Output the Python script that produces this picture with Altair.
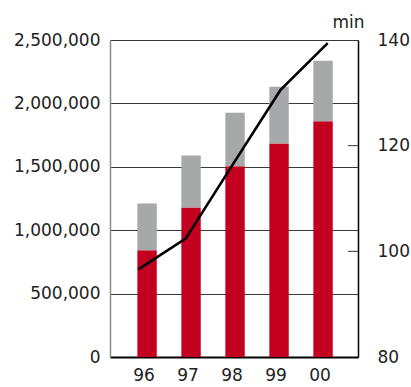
import altair as alt
import pandas as pd

# Yearly totals split into two stacked parts, plus average minutes on a second axis
years = ["96", "97", "98", "99", "00"]
lower = [842000, 1180000, 1505000, 1683000, 1860000]
upper = [369000, 409000, 422000, 449000, 477000]
minutes = [96.6, 102.4, 116.5, 130.5, 139.4]
left_ticks = [0, 500000, 1000000, 1500000, 2000000, 2500000]
right_labels = [80, 100, 120, 140]
right_ticks = [100, 120]

FONT = "DejaVu Sans"
FS = 17
RED = "#c40020"
GRAY = "#a6a8aa"
TEXT = "#222222"

bars_df = pd.DataFrame({
    "year": years * 2,
    "value": lower + upper,
    "part": ["lower"] * len(years) + ["upper"] * len(years),
    "rank": [0] * len(years) + [1] * len(years),
})
line_df = pd.DataFrame({"year": years, "minutes": minutes})
tick_df = pd.DataFrame({"minutes": right_ticks})

bars = alt.Chart(bars_df).mark_bar().encode(
    x=alt.X(
        "year:N", sort=years,
        scale=alt.Scale(paddingInner=0.559, paddingOuter=0.598, align=0.52),
        axis=alt.Axis(title=None, labelAngle=0, ticks=False, domainColor="black",
                      domainWidth=2, labelPadding=10, labelOffset=-3,
                      labelFontSize=FS, labelFont=FONT, labelColor=TEXT),
    ),
    y=alt.Y(
        "value:Q", stack="zero",
        scale=alt.Scale(domain=[0, 2500000], nice=False, zero=True),
        axis=alt.Axis(title=None, values=left_ticks, format=",.0f", grid=True,
                      gridColor="#3a3a3a", gridWidth=1, ticks=False,
                      domainColor="#8a8a8a", domainWidth=1.5, labelPadding=10,
                      labelFontSize=FS, labelFont=FONT, labelColor=TEXT),
    ),
    color=alt.Color("part:N", scale=alt.Scale(domain=["lower", "upper"], range=[RED, GRAY]),
                    legend=None),
    order=alt.Order("rank:Q"),
)

line = alt.Chart(line_df).mark_line(color="black", strokeWidth=2.6).encode(
    x=alt.X("year:N", sort=years,
            scale=alt.Scale(type="point", padding=0.619, align=0.483), axis=None),
    y=alt.Y(
        "minutes:Q",
        scale=alt.Scale(domain=[80, 140], nice=False, zero=False),
        axis=alt.Axis(orient="right", values=right_labels, ticks=False, grid=False,
                      domainColor="black", domainWidth=1.5, labelPadding=19,
                      labelFontSize=FS, labelFont=FONT, labelColor=TEXT,
                      title="min", titleAngle=0, titleX=-10, titleY=-18,
                      titleAlign="center", titleBaseline="middle",
                      titleFont=FONT, titleFontSize=FS, titleFontWeight="normal",
                      titleColor=TEXT),
    ),
)

# short inward ticks on the right axis
inner_ticks = alt.Chart(tick_df).mark_rule(color="#333333", strokeWidth=1).encode(
    y=alt.Y("minutes:Q"),
    x=alt.value(238),
    x2=alt.value(248),
)

chart = alt.layer(bars, alt.layer(line, inner_ticks)).resolve_scale(
    y="independent", x="independent"
).properties(
    width=248,
    height=317,
    autosize=alt.AutoSizeParams(type="none"),
    padding={"left": 110, "top": 40, "right": 53, "bottom": 30},
    background="white",
).configure_view(stroke=None)

chart.save("out.html", embed_options={"renderer": "svg", "actions": False})
